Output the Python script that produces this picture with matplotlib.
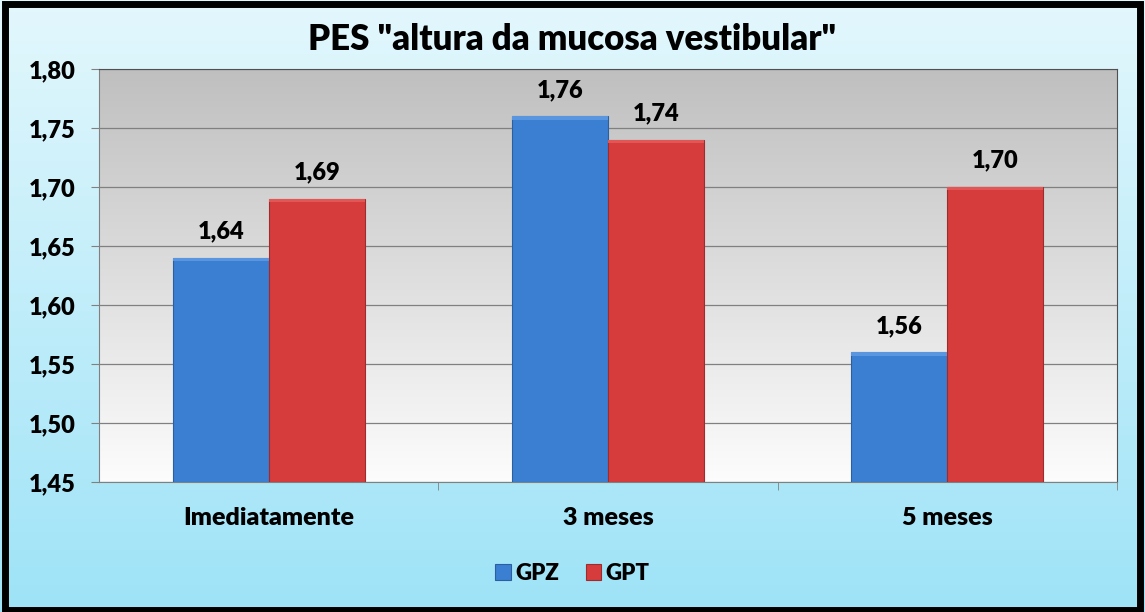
import numpy as np
import matplotlib
matplotlib.use("Agg")
import matplotlib.pyplot as plt
from matplotlib.patches import Rectangle

# data
categories = ["Imediatamente", "3 meses", "5 meses"]
gpz = [1.64, 1.76, 1.56]
gpt = [1.69, 1.74, 1.70]
series_names = ["GPZ", "GPT"]
yticks = [1.45, 1.50, 1.55, 1.60, 1.65, 1.70, 1.75, 1.80]

BLUE = "#3b7fd3"
RED = "#d63c3c"
FONT = ["Lato", "DejaVu Sans"]


def fmt(v):
    return f"{v:.2f}".replace(".", ",")


def main():
    plt.rcParams["font.family"] = FONT
    plt.rcParams["font.weight"] = "bold"

    fig = plt.figure(figsize=(11.45, 6.12), dpi=100)

    # light cyan background gradient over whole figure
    bg = fig.add_axes([0, 0, 1, 1], zorder=-10)
    grad = np.linspace(0, 1, 256).reshape(-1, 1)
    top = np.array([0.89, 0.97, 0.99])
    bot = np.array([0.62, 0.89, 0.97])
    img = top + (bot - top) * grad[..., None]
    bg.imshow(img, aspect="auto", extent=[0, 1, 0, 1])
    bg.set_axis_off()

    # plot area
    ax = fig.add_axes([0.0865, 0.2124, 0.889, 0.675])
    ax.set_ylim(1.45, 1.80)
    ax.set_xlim(-0.5, 2.5)

    ptop = np.array([0.75, 0.75, 0.75])
    pbot = np.array([0.99, 0.99, 0.99])
    pimg = ptop + (pbot - ptop) * grad[..., None]
    ax.imshow(pimg, aspect="auto", extent=[-0.5, 2.5, 1.45, 1.80], zorder=0)

    x = np.arange(len(categories))
    w = 0.283
    b1 = ax.bar(x - w / 2, np.array(gpz) - 1.45, w, bottom=1.45, color=BLUE,
                edgecolor="#2c5f9e", linewidth=0.8, zorder=3, label=series_names[0])
    b2 = ax.bar(x + w / 2, np.array(gpt) - 1.45, w, bottom=1.45, color=RED,
                edgecolor="#9e2c2c", linewidth=0.8, zorder=3, label=series_names[1])

    # subtle bevel highlight on the bar tops
    for bars, light in ((b1, "#5a96e0"), (b2, "#e25656")):
        for r in bars:
            h = r.get_height()
            ax.add_patch(Rectangle((r.get_x(), r.get_y() + h - 0.003), r.get_width(), 0.003,
                                   facecolor=light, edgecolor="none", zorder=4))

    for xi, v in zip(x - w / 2, gpz):
        ax.annotate(fmt(v), (xi, v), xytext=(0, 11), textcoords="offset points",
                    ha="center", va="bottom", fontsize=17, fontweight="heavy")
    for xi, v in zip(x + w / 2, gpt):
        ax.annotate(fmt(v), (xi, v), xytext=(0, 11), textcoords="offset points",
                    ha="center", va="bottom", fontsize=17, fontweight="heavy")

    ax.set_yticks(yticks)
    ax.set_yticklabels([fmt(t) for t in yticks], fontsize=17, fontweight="heavy")
    ax.yaxis.grid(True, color="#808080", linewidth=0.9, zorder=1)
    ax.set_axisbelow(True)

    ax.set_xticks(x)
    ax.set_xticklabels(categories, fontsize=18, fontweight="heavy")
    ax.tick_params(axis="x", length=0, pad=18)
    ax.set_xticks([0.5, 1.5, 2.5], minor=True)
    ax.tick_params(axis="x", which="minor", length=6, color="#808080")
    ax.tick_params(axis="y", length=6, color="#808080", pad=11)

    for s in ("top", "right"):
        ax.spines[s].set_color("#505050")
    ax.spines["left"].set_color("#808080")
    ax.spines["bottom"].set_color("#808080")

    fig.text(0.5, 0.935, 'PES "altura da mucosa vestibular"', ha="center", va="center",
             fontsize=25, fontweight="heavy")

    fig.legend(handles=[b1, b2], labels=series_names, loc="center",
               bbox_to_anchor=(0.5, 0.063), ncol=2, frameon=False,
               prop={"size": 16, "weight": "heavy"}, handlelength=0.7,
               handleheight=0.7, handletextpad=0.2, columnspacing=1.2)

    # thick black frame round the chart
    fig.patches.append(Rectangle((0.004, 0.004), 0.992, 0.99, transform=fig.transFigure,
                                 fill=False, edgecolor="black", linewidth=5, zorder=20))

    fig.savefig("out.png", dpi=100)


if __name__ == "__main__":
    main()
